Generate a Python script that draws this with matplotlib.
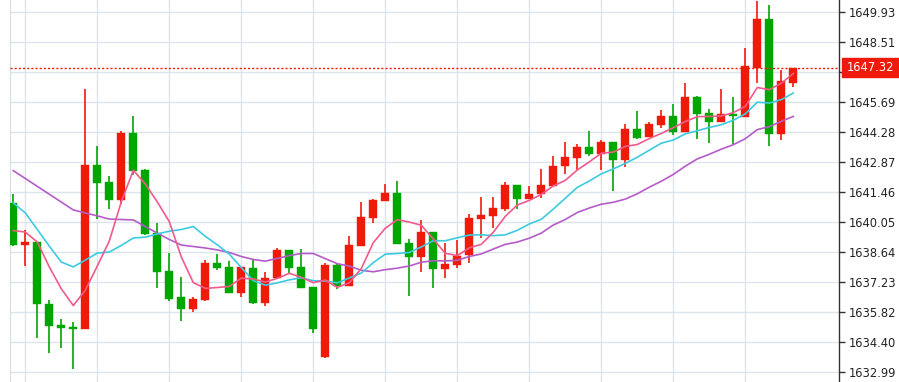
import matplotlib
matplotlib.use("Agg")
import matplotlib.pyplot as plt
import matplotlib.transforms as mtransforms
from matplotlib.patches import Rectangle
import numpy as np

opens = [1640.94, 1638.98, 1639.14, 1636.20, 1635.20, 1635.12, 1635.04, 1642.74, 1641.96, 1641.10,
         1644.26, 1642.50, 1639.53, 1637.74, 1636.52, 1635.97, 1636.39, 1638.13, 1637.96, 1636.71,
         1637.91, 1636.24, 1637.43, 1638.76, 1637.93, 1637.00, 1633.72, 1638.03, 1637.04, 1638.93,
         1640.25, 1641.05, 1641.44, 1639.06, 1638.43, 1639.59, 1637.85, 1638.04, 1638.51, 1640.22,
         1640.36, 1640.66, 1641.79, 1641.13, 1641.37, 1641.76, 1642.68, 1643.09, 1643.58, 1643.26,
         1643.81, 1642.97, 1644.45, 1644.04, 1644.63, 1645.05, 1644.30, 1645.94, 1645.21, 1644.77,
         1645.16, 1645.02, 1647.32, 1649.61, 1644.22, 1646.62]
highs = [1641.38, 1639.69, 1639.14, 1636.39, 1635.48, 1635.37, 1646.31, 1643.64, 1642.23, 1644.36,
         1645.05, 1642.56, 1640.00, 1638.59, 1637.46, 1636.55, 1638.26, 1638.57, 1638.23, 1637.93,
         1638.31, 1637.70, 1638.84, 1638.76, 1638.79, 1637.00, 1638.12, 1638.12, 1639.42, 1641.00,
         1641.13, 1641.85, 1641.99, 1639.25, 1640.16, 1639.59, 1639.06, 1639.22, 1640.43, 1641.23,
         1641.23, 1641.95, 1641.79, 1641.76, 1642.54, 1643.15, 1643.83, 1643.72, 1644.36, 1643.91,
         1643.81, 1644.66, 1645.27, 1644.75, 1645.32, 1645.63, 1646.60, 1646.01, 1645.38, 1646.31,
         1645.94, 1648.26, 1650.46, 1650.26, 1647.20, 1647.32]
lows = [1638.95, 1637.99, 1634.62, 1633.91, 1634.12, 1633.15, 1635.04, 1640.19, 1640.66, 1640.91,
        1642.29, 1639.45, 1636.97, 1636.36, 1635.42, 1635.83, 1636.35, 1637.80, 1636.71, 1636.55,
        1636.20, 1636.12, 1637.43, 1637.68, 1636.94, 1634.85, 1633.66, 1636.92, 1637.04, 1638.93,
        1640.00, 1641.05, 1639.01, 1636.59, 1637.70, 1636.97, 1637.44, 1637.88, 1638.15, 1639.30,
        1639.77, 1640.59, 1640.66, 1641.13, 1641.18, 1641.76, 1642.31, 1642.51, 1643.17, 1642.51,
        1641.54, 1642.64, 1643.97, 1644.04, 1644.47, 1644.16, 1644.30, 1643.97, 1643.77, 1644.77,
        1643.72, 1645.02, 1646.62, 1643.64, 1643.92, 1646.42]
closes = [1638.98, 1639.14, 1636.20, 1635.17, 1635.09, 1635.03, 1642.74, 1641.91, 1641.10, 1644.26,
          1642.48, 1639.48, 1637.71, 1636.45, 1635.97, 1636.44, 1638.13, 1637.91, 1636.71, 1637.93,
          1636.24, 1637.43, 1638.76, 1637.91, 1636.94, 1635.01, 1638.03, 1637.04, 1638.98, 1640.30,
          1641.10, 1641.44, 1639.01, 1638.43, 1639.59, 1637.85, 1638.07, 1638.46, 1640.27, 1640.41,
          1640.71, 1641.79, 1641.13, 1641.38, 1641.79, 1642.70, 1643.12, 1643.58, 1643.26, 1643.83,
          1642.97, 1644.45, 1644.03, 1644.67, 1645.05, 1644.28, 1645.94, 1645.14, 1644.75, 1645.16,
          1645.04, 1647.40, 1649.61, 1644.22, 1646.70, 1647.32]
ma5 = [1639.66, 1639.59, 1639.12, 1637.95, 1636.92, 1636.13, 1636.85, 1637.99, 1639.17, 1641.01,
       1642.50, 1641.85, 1641.01, 1640.08, 1638.42, 1637.21, 1636.94, 1636.98, 1637.03, 1637.42,
       1637.38, 1637.24, 1637.41, 1637.65, 1637.46, 1637.21, 1637.33, 1636.99, 1637.20, 1637.87,
       1639.09, 1639.77, 1640.17, 1640.06, 1639.91, 1639.26, 1638.59, 1638.48, 1638.85, 1639.01,
       1639.58, 1640.33, 1640.86, 1641.08, 1641.36, 1641.76, 1642.02, 1642.51, 1642.89, 1643.30,
       1643.35, 1643.62, 1643.71, 1643.99, 1644.23, 1644.50, 1644.79, 1645.02, 1645.03, 1645.05,
       1645.21, 1645.50, 1646.39, 1646.29, 1646.59, 1647.05]
ma10 = [1640.96, 1640.49, 1639.71, 1638.93, 1638.18, 1637.95, 1638.27, 1638.60, 1638.65, 1638.96,
        1639.31, 1639.35, 1639.50, 1639.63, 1639.71, 1639.85, 1639.39, 1638.99, 1638.55, 1637.92,
        1637.30, 1637.09, 1637.20, 1637.34, 1637.44, 1637.30, 1637.29, 1637.20, 1637.43, 1637.66,
        1638.15, 1638.55, 1638.58, 1638.63, 1638.89, 1639.18, 1639.18, 1639.32, 1639.45, 1639.46,
        1639.42, 1639.46, 1639.67, 1639.97, 1640.19, 1640.67, 1641.18, 1641.69, 1641.99, 1642.33,
        1642.56, 1642.82, 1643.11, 1643.44, 1643.77, 1643.92, 1644.21, 1644.36, 1644.51, 1644.64,
        1644.85, 1645.15, 1645.70, 1645.66, 1645.82, 1646.13]
ma20 = [1642.48, 1642.11, 1641.74, 1641.37, 1641.00, 1640.63, 1640.49, 1640.35, 1640.20, 1640.18,
        1640.16, 1639.85, 1639.54, 1639.24, 1638.98, 1638.91, 1638.84, 1638.75, 1638.63, 1638.44,
        1638.30, 1638.22, 1638.35, 1638.48, 1638.58, 1638.58, 1638.34, 1638.10, 1637.99, 1637.79,
        1637.72, 1637.82, 1637.89, 1637.99, 1638.17, 1638.24, 1638.23, 1638.26, 1638.44, 1638.56,
        1638.79, 1639.01, 1639.12, 1639.30, 1639.54, 1639.92, 1640.18, 1640.51, 1640.72, 1640.90,
        1640.99, 1641.14, 1641.39, 1641.70, 1641.98, 1642.30, 1642.69, 1643.03, 1643.25, 1643.49,
        1643.70, 1643.98, 1644.41, 1644.55, 1644.80, 1645.03]
ytick_labels = ["1632.99", "1634.40", "1635.82", "1637.23", "1638.64", "1640.05", "1641.46",
                "1642.87", "1644.28", "1645.69", "1647.10", "1648.51", "1649.93"]
last_price = "1647.32"

UP = "#F01A0A"
DOWN = "#00A600"
GRID = "#DDE5EC"

W, H = 899, 382
fig = plt.figure(figsize=(W / 100, H / 100), dpi=100)
ax = fig.add_axes([10 / W, 0, (839 - 10) / W, 1])

x = np.arange(len(closes))
o = np.array(opens); c = np.array(closes)
h = np.array(highs); l = np.array(lows)
up = c >= o
cols = np.where(up, UP, DOWN)

# gridlines
for t in ytick_labels:
    ax.axhline(float(t), color=GRID, lw=1.0, zorder=0)
for xi in range(1, len(closes), 6):
    ax.axvline(xi, color=GRID, lw=1.0, zorder=0)

# wicks
ax.vlines(x, l, h, colors=cols, lw=1.2, zorder=2)
# bodies
bottom = np.minimum(o, c)
height = np.maximum(np.abs(c - o), 0.09)
ax.bar(x, height, bottom=bottom, width=0.68, color=cols, edgecolor=cols, lw=0.3, zorder=3)

# moving averages
ax.plot(x, ma20, color="#B45CC8", lw=1.2, zorder=4)
ax.plot(x, ma10, color="#3CCBE0", lw=1.2, zorder=4)
ax.plot(x, ma5, color="#F25A8C", lw=1.2, zorder=4)

# last price dotted line
lp = float(last_price)
ax.axhline(lp, color=UP, lw=1.0, ls=(0, (1.5, 1.5)), zorder=5)

ax.set_xlim(-0.275, 68.81)
ax.set_ylim(1632.534, 1650.509)

ax.yaxis.tick_right()
ax.set_yticks([float(t) for t in ytick_labels])
ax.set_yticklabels(ytick_labels)
ax.tick_params(axis="y", direction="out", length=4, width=1, color="#333333",
               labelsize=8.3, labelcolor="#222222", pad=3)
ax.set_xticks([])
for s in ["top", "bottom"]:
    ax.spines[s].set_visible(False)
ax.spines["left"].set_color("#D5DDE5")
ax.spines["right"].set_color("#333333")
ax.spines["right"].set_linewidth(1.0)
ax.set_facecolor("white")

# last price label box
trans = mtransforms.blended_transform_factory(ax.transAxes, ax.transData)
ppx = (1650.509 - 1632.534) / H
box_h = 19 * ppx
ax.add_patch(Rectangle((1.0 + 3 / 829, lp - box_h / 2), 60 / 829, box_h, transform=trans,
                       color=UP, clip_on=False, zorder=10))
ax.text(1.0 + 7.5 / 829, lp, last_price, transform=trans, color="white", fontsize=8.3,
        va="center", ha="left", zorder=11, clip_on=False)

fig.savefig("out.png", dpi=100)
